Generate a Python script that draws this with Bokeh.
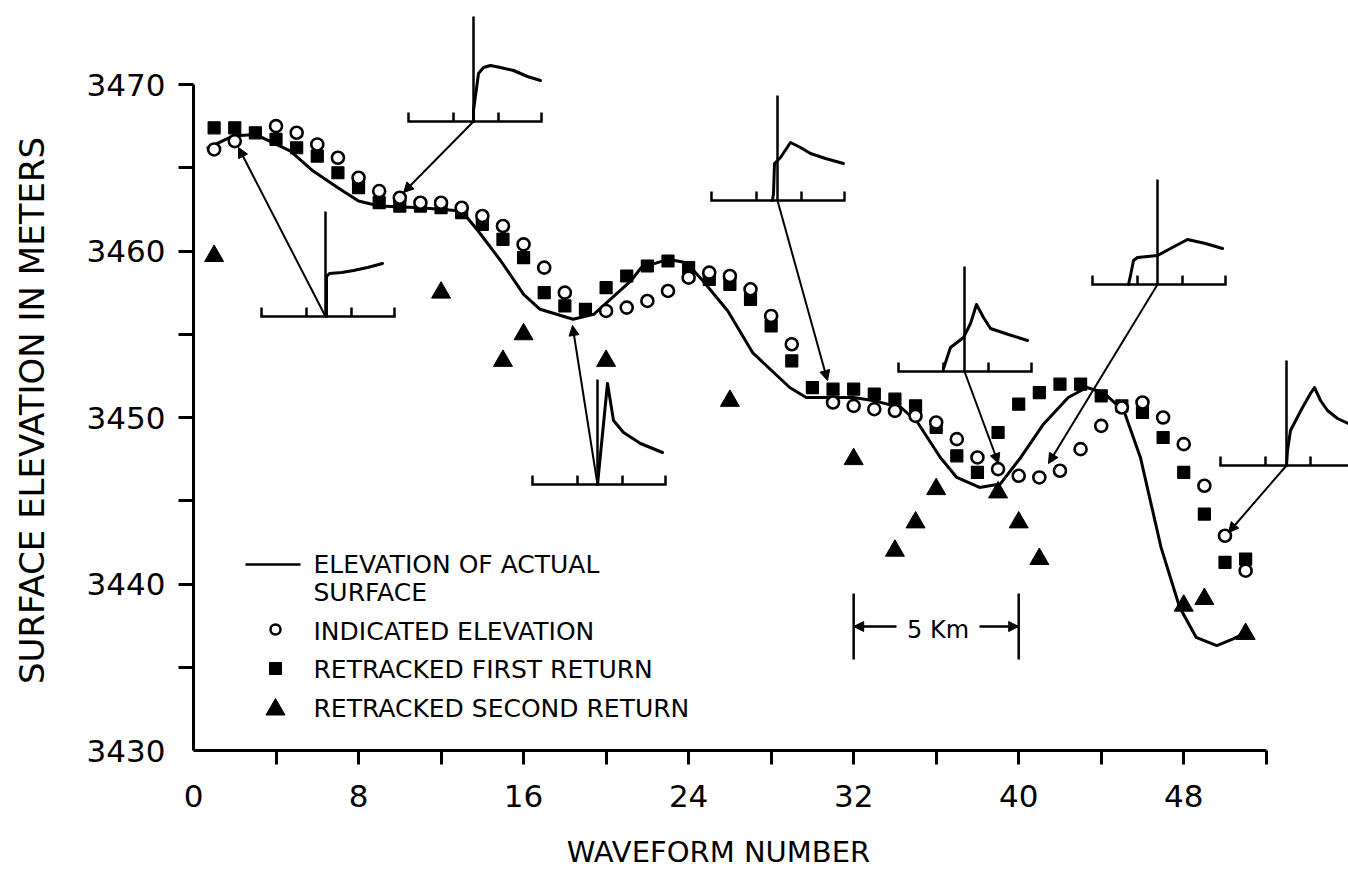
import math
from bokeh.plotting import figure
from bokeh.models import Range1d, FixedTicker, Arrow, NormalHead
from bokeh.core.properties import value
from bokeh.embed import file_html
from bokeh.resources import INLINE

# ---------------- data ----------------
indicated_x = [1, 2, 4, 5, 6, 7, 8, 9, 10, 11, 12, 13, 14, 15, 16, 17, 18,
               20, 21, 22, 23, 24, 25, 26, 27, 28, 29, 31, 32, 33, 34, 35, 36,
               37, 38, 39, 40, 41, 42, 43, 44, 45, 46, 47, 48, 49, 50, 51]
indicated_y = [3466.1, 3466.6, 3467.5, 3467.1, 3466.4, 3465.6, 3464.4, 3463.6,
               3463.2, 3462.9, 3462.9, 3462.6, 3462.1, 3461.5, 3460.4, 3459.0,
               3457.5, 3456.4, 3456.6, 3457.0, 3457.6, 3458.4, 3458.7, 3458.5,
               3457.7, 3456.1, 3454.4, 3450.9, 3450.7, 3450.5, 3450.4, 3450.1,
               3449.7, 3448.7, 3447.6, 3446.9, 3446.5, 3446.4, 3446.8, 3448.1,
               3449.5, 3450.6, 3450.9, 3450.0, 3448.4, 3445.9, 3442.9, 3440.8]

first_x = list(range(1, 52))
first_y = [3467.4, 3467.4, 3467.1, 3466.7, 3466.2, 3465.7, 3464.7, 3463.8,
           3462.9, 3462.7, 3462.7, 3462.6, 3462.3, 3461.6, 3460.7, 3459.6,
           3457.5, 3456.7, 3456.5, 3457.8, 3458.5, 3459.1, 3459.4, 3459.0,
           3458.3, 3458.0, 3457.1, 3455.5, 3453.4, 3451.8, 3451.7, 3451.7,
           3451.4, 3451.1, 3450.7, 3449.4, 3447.7, 3446.7, 3449.1, 3450.8,
           3451.5, 3452.0, 3452.0, 3451.3, 3450.7, 3450.3, 3448.8, 3446.7,
           3444.2, 3441.3, 3441.5]

second_x = [1, 12, 15, 16, 20, 26, 32, 34, 35, 36, 39, 40, 41, 48, 49, 51]
second_y = [3459.7, 3457.5, 3453.4, 3455.0, 3453.4, 3451.0, 3447.5, 3442.0,
            3443.7, 3445.7, 3445.5, 3443.7, 3441.5, 3438.7, 3439.1, 3437.0]

surface_x = [0.7, 1.9, 3.0, 4.7, 5.8, 7.0, 8.0, 9.0, 11.0, 13.0, 13.8, 14.9,
             16.0, 16.8, 18.4, 19.4, 20.3, 21.2, 21.7, 23.0, 23.9, 24.7, 25.9,
             27.1, 28.9, 29.7, 30.9, 32.0, 33.0, 34.3, 35.1, 36.2, 37.0, 38.1,
             39.1, 40.1, 41.2, 42.4, 43.3, 44.1, 45.1, 45.9, 46.9, 47.8, 48.6,
             49.6, 50.4, 50.9]
surface_y = [3466.2, 3466.9, 3467.0, 3466.0, 3464.8, 3463.8, 3463.0, 3462.7,
             3462.6, 3462.4, 3461.2, 3459.4, 3457.4, 3456.5, 3455.9, 3456.2,
             3457.2, 3458.2, 3459.0, 3459.5, 3459.3, 3458.2, 3456.4, 3453.9,
             3451.8, 3451.2, 3451.2, 3451.2, 3451.0, 3450.6, 3449.7, 3447.6,
             3446.4, 3445.8, 3446.0, 3447.6, 3449.6, 3451.2, 3451.8, 3451.5,
             3450.4, 3447.6, 3442.2, 3438.6, 3436.8, 3436.3, 3436.7, 3437.0]

x_major = [0, 8, 16, 24, 32, 40, 48]
x_minor = [4, 8, 12, 16, 20, 24, 28, 32, 36, 40, 44, 48, 52]
y_major = [3430, 3440, 3450, 3460, 3470]
y_minor = [3435, 3440, 3445, 3450, 3455, 3460, 3465, 3470]

x_title = "WAVEFORM NUMBER"
y_title = "SURFACE ELEVATION IN METERS"
legend_labels = ["ELEVATION OF ACTUAL", "SURFACE", "INDICATED ELEVATION",
                 "RETRACKED FIRST RETURN", "RETRACKED SECOND RETURN"]

# ---------------- layout helpers (pixel -> data) ----------------
PXX, PXY = 20.63, 16.65
X0, Y3470 = 193.0, 84.0
W, H = 1348, 880


def dxp(px):
    return (px - X0) / PXX


def dyp(py):
    return 3470 - (py - Y3470) / PXY


FONT = "DejaVu Sans"

p = figure(width=W, height=H, output_backend="svg", toolbar_location=None,
           x_range=Range1d(dxp(0), dxp(W)), y_range=Range1d(dyp(H), dyp(0)),
           min_border_left=0, min_border_right=0, min_border_top=0,
           min_border_bottom=0)
p.outline_line_color = None
p.grid.visible = False
p.background_fill_color = "white"
p.border_fill_color = "white"

# axes, placed at x=0 / y=3430 inside the frame
xa = p.xaxis[0]
ya = p.yaxis[0]
xa.fixed_location = 3430
ya.fixed_location = 0
xa.bounds = (0, 52)
ya.bounds = (3430, 3470)
xa.ticker = FixedTicker(ticks=x_major, minor_ticks=x_minor)
ya.ticker = FixedTicker(ticks=y_major, minor_ticks=y_minor)
for ax in (xa, ya):
    ax.axis_line_width = 3
    ax.axis_line_color = "black"
    ax.major_tick_out = 0
    ax.major_tick_in = 0
    ax.minor_tick_in = 0
    ax.minor_tick_line_width = 3
    ax.minor_tick_line_color = "black"
    ax.major_label_text_font = FONT
    ax.major_label_text_font_size = "31px"
    ax.major_label_text_color = "black"
xa.minor_tick_out = 14
ya.minor_tick_out = 15
xa.major_label_standoff = 20
ya.major_label_standoff = 13

# axis titles
p.text([dxp(718)], [dyp(851)], text=[x_title], text_font=value(FONT),
       text_font_size="29px", text_align="center",
       text_baseline="alphabetic", text_color="black")
p.text([dxp(31)], [dyp(410)], text=[y_title], angle=math.pi / 2,
       text_font=value(FONT), text_font_size="34px", text_align="center",
       text_baseline="alphabetic", text_color="black")

# ---------------- data glyphs ----------------
p.line(surface_x, surface_y, line_width=3, line_color="black",
       line_join="round", line_cap="round")
p.scatter(first_x, first_y, marker="square", size=12, fill_color="black",
          line_color="black", line_width=1.2)
p.scatter(indicated_x, indicated_y, marker="circle", size=12,
          fill_color="white", line_color="black", line_width=2.6)
p.scatter(second_x, second_y, marker="triangle", size=19, fill_color="black",
          line_color="black", line_width=1)

# ---------------- waveform insets ----------------
inset_left = [408, 261, 532, 711, 898, 1092, 1220]
inset_base = [121, 316, 484, 200, 371, 284, 465]
inset_anchor = [473, 325, 597, 777, 964, 1157, 1286]
arrow_tip = [(403, 192), (238, 147), (572, 325), (827, 380), (998, 463),
             (1048, 463), (1228, 532)]
wave_dx = [
    [65, 65, 70, 75, 82, 92, 105, 119, 132],
    [65, 65, 68, 80, 92, 106, 121],
    [65, 75, 81, 91, 108, 130],
    [61, 62, 63, 69, 79, 89, 99, 114, 132],
    [45, 52, 65, 72, 78, 85, 92, 110, 129],
    [36, 38, 41, 45, 65, 78, 95, 113, 130],
    [66, 67, 70, 82, 90, 94, 100, 107, 117, 132],
]
wave_up = [
    [0, 11, 48, 54, 56, 54, 51, 45, 41],
    [0, 40, 43, 44, 46, 49, 53],
    [0, 101, 64, 52, 41, 32],
    [0, 7, 37, 43, 58, 53, 47, 42, 37],
    [3, 24, 34, 48, 67, 54, 43, 37, 31],
    [0, 9, 24, 27, 29, 36, 45, 41, 36],
    [0, 15, 35, 58, 72, 78, 65, 55, 47, 40],
]
BASE_LEN, TICK_H, MARK_H = 133, 9, 105

frame_xs, frame_ys = [], []
wave_xs, wave_ys = [], []
for i in range(len(inset_left)):
    L, B, A = inset_left[i], inset_base[i], inset_anchor[i]
    frame_xs.append([dxp(L), dxp(L), dxp(L + BASE_LEN), dxp(L + BASE_LEN)])
    frame_ys.append([dyp(B - TICK_H), dyp(B), dyp(B), dyp(B - TICK_H)])
    for t in (45, 90):
        frame_xs.append([dxp(L + t), dxp(L + t)])
        frame_ys.append([dyp(B), dyp(B - TICK_H)])
    frame_xs.append([dxp(A), dxp(A)])
    frame_ys.append([dyp(B), dyp(B - MARK_H)])
    wave_xs.append([dxp(L + d) for d in wave_dx[i]])
    wave_ys.append([dyp(B - u) for u in wave_up[i]])
    tx, ty = arrow_tip[i]
    p.add_layout(Arrow(end=NormalHead(size=10, fill_color="black",
                                      line_color="black", line_width=1),
                       x_start=dxp(A), y_start=dyp(B), x_end=dxp(tx),
                       y_end=dyp(ty), line_width=2, line_color="black"))

p.multi_line(frame_xs, frame_ys, line_width=2.5, line_color="black",
             line_join="miter")
p.multi_line(wave_xs, wave_ys, line_width=3, line_color="black",
             line_join="round", line_cap="round")

# ---------------- 5 Km scale ----------------
p.multi_line([[32, 32], [40, 40]], [[dyp(593), dyp(659)], [dyp(593), dyp(659)]],
             line_width=2.5, line_color="black")
for xs, xe in ((dxp(896), 32), (dxp(979), 40)):
    p.add_layout(Arrow(end=NormalHead(size=10, fill_color="black",
                                      line_color="black", line_width=1),
                       x_start=xs, y_start=dyp(626), x_end=xe, y_end=dyp(626),
                       line_width=2.5, line_color="black"))
p.text([dxp(937.5)], [dyp(629)], text=["5 Km"], text_font=value(FONT),
       text_font_size="24px", text_align="center",
       text_baseline="alphabetic", text_color="black")

# ---------------- legend (drawn) ----------------
p.line([dxp(245), dxp(300)], [dyp(564), dyp(564)], line_width=2.5,
       line_color="black")
p.scatter([dxp(275)], [dyp(629)], marker="circle", size=10, fill_color="white",
          line_color="black", line_width=2.5)
p.scatter([dxp(275)], [dyp(668)], marker="square", size=12, fill_color="black",
          line_color="black", line_width=1)
p.scatter([dxp(275)], [dyp(709)], marker="triangle", size=19,
          fill_color="black", line_color="black", line_width=1)
legend_base = [564, 592, 631, 669, 708]
p.text([dxp(313)] * 5, [dyp(b) for b in legend_base], text=legend_labels,
       text_font=value(FONT), text_font_size="25px", text_align="left",
       text_baseline="alphabetic", text_color="black")

open("out.html", "w").write(file_html(p, INLINE))
